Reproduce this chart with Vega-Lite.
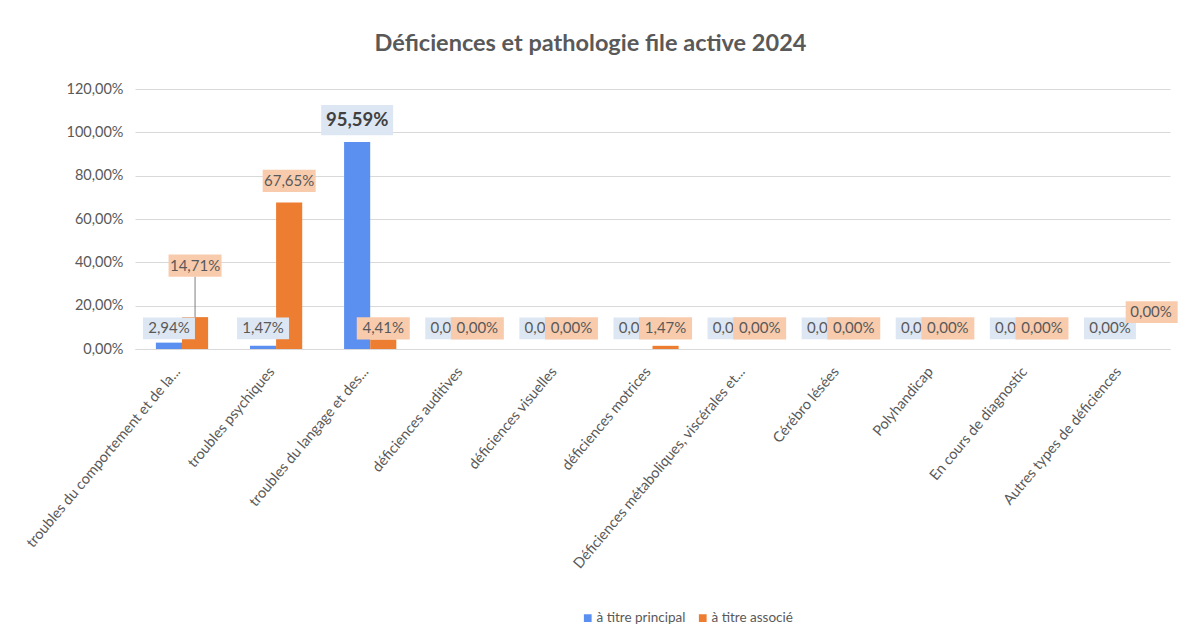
{
  "$schema": "https://vega.github.io/schema/vega-lite/v6.json",
  "width": 1035,
  "height": 260,
  "autosize": {"type": "none"},
  "padding": {"left": 135, "top": 89, "right": 11, "bottom": 295},
  "background": "white",
  "title": {
    "text": "Déficiences et pathologie file active 2024",
    "font": "Lato",
    "fontSize": 23.5,
    "fontWeight": "bold",
    "color": "#595959",
    "anchor": "middle",
    "dx": -62,
    "offset": 26
  },
  "data": {
    "values": [
      {"category": "troubles du comportement et de la...", "series": "à titre principal", "value": 0.0294},
      {"category": "troubles du comportement et de la...", "series": "à titre associé", "value": 0.1471},
      {"category": "troubles psychiques", "series": "à titre principal", "value": 0.0147},
      {"category": "troubles psychiques", "series": "à titre associé", "value": 0.6765},
      {"category": "troubles du langage et des...", "series": "à titre principal", "value": 0.9559},
      {"category": "troubles du langage et des...", "series": "à titre associé", "value": 0.0441},
      {"category": "déficiences auditives", "series": "à titre principal", "value": 0},
      {"category": "déficiences auditives", "series": "à titre associé", "value": 0},
      {"category": "déficiences visuelles", "series": "à titre principal", "value": 0},
      {"category": "déficiences visuelles", "series": "à titre associé", "value": 0},
      {"category": "déficiences motrices", "series": "à titre principal", "value": 0},
      {"category": "déficiences motrices", "series": "à titre associé", "value": 0.0147},
      {"category": "Déficiences métaboliques, viscérales et...", "series": "à titre principal", "value": 0},
      {"category": "Déficiences métaboliques, viscérales et...", "series": "à titre associé", "value": 0},
      {"category": "Cérébro lésées", "series": "à titre principal", "value": 0},
      {"category": "Cérébro lésées", "series": "à titre associé", "value": 0},
      {"category": "Polyhandicap", "series": "à titre principal", "value": 0},
      {"category": "Polyhandicap", "series": "à titre associé", "value": 0},
      {"category": "En cours de diagnostic", "series": "à titre principal", "value": 0},
      {"category": "En cours de diagnostic", "series": "à titre associé", "value": 0},
      {"category": "Autres types de déficiences", "series": "à titre principal", "value": 0},
      {"category": "Autres types de déficiences", "series": "à titre associé", "value": 0}
    ]
  },
  "transform": [
    {"calculate": "datum.category == 'Autres types de déficiences' && datum.series == 'à titre associé' ? 0.17 : (datum.value > 0.5 ? datum.value + 0.1 : (datum.value > 0.1 ? 0.385 : 0.095))", "as": "labelY"},
    {"calculate": "datum.labelY - 0.05", "as": "leaderY"}
  ],
  "encoding": {
    "x": {
      "field": "category",
      "type": "nominal",
      "sort": null,
      "scale": {"paddingInner": 0.445, "paddingOuter": 0.222},
      "axis": {
        "title": null,
        "labelAngle": -50,
        "labelAlign": "right",
        "labelBaseline": "middle",
        "labelFont": "Lato",
        "labelFontSize": 14.5,
        "labelColor": "#595959",
        "labelPadding": 20,
        "labelOffset": -4,
        "labelLimit": 400,
        "ticks": false,
        "domainColor": "#D9D9D9",
        "domainWidth": 1
      }
    },
    "xOffset": {
      "field": "series",
      "type": "nominal",
      "scale": {"domain": ["à titre principal", "à titre associé"]}
    }
  },
  "layer": [
    {
      "mark": {"type": "bar"},
      "encoding": {
        "y": {
          "field": "value",
          "type": "quantitative",
          "scale": {"domain": [0, 1.2]},
          "axis": {
            "title": null,
            "format": ".2%",
            "values": [0, 0.2, 0.4, 0.6, 0.8, 1.0, 1.2],
            "domain": false,
            "ticks": false,
            "labelFont": "Lato",
            "labelFontSize": 14.5,
            "labelColor": "#595959",
            "labelPadding": 12,
            "gridColor": "#D9D9D9",
            "gridWidth": 1
          }
        },
        "color": {
          "field": "series",
          "type": "nominal",
          "scale": {"domain": ["à titre principal", "à titre associé"], "range": ["#5B8FF0", "#ED7D31"]},
          "legend": {
            "title": null,
            "orient": "none",
            "legendX": 446,
            "legendY": 522,
            "direction": "horizontal",
            "symbolType": "square",
            "symbolSize": 60,
            "labelOffset": 2,
            "labelFont": "Lato",
            "labelFontSize": 13.5,
            "labelColor": "#595959",
            "columnPadding": 10
          }
        }
      }
    },
    {
      "transform": [{"filter": "datum.series == 'à titre principal' && datum.value < 0.9"}],
      "mark": {"type": "point", "filled": true, "shape": "M-1,-0.42H1V0.42H-1Z", "size": 2704, "color": "#DDE7F3", "opacity": 1, "strokeWidth": 0},
      "encoding": {"y": {"field": "labelY", "type": "quantitative"}}
    },
    {
      "transform": [{"filter": "datum.series == 'à titre principal' && datum.value < 0.9"}],
      "mark": {"type": "text", "font": "Lato", "fontSize": 15, "color": "#595959"},
      "encoding": {
        "y": {"field": "labelY", "type": "quantitative"},
        "text": {"field": "value", "type": "quantitative", "format": ".2%"}
      }
    },
    {
      "transform": [{"filter": "datum.series == 'à titre principal' && datum.value >= 0.9"}],
      "mark": {"type": "point", "filled": true, "shape": "M-1,-0.42H1V0.42H-1Z", "size": 5184, "color": "#DDE7F3", "opacity": 1, "strokeWidth": 0},
      "encoding": {"y": {"field": "labelY", "type": "quantitative"}}
    },
    {
      "transform": [{"filter": "datum.series == 'à titre principal' && datum.value >= 0.9"}],
      "mark": {"type": "text", "font": "Lato", "fontSize": 18.5, "fontWeight": "bold", "color": "#404040"},
      "encoding": {
        "y": {"field": "labelY", "type": "quantitative"},
        "text": {"field": "value", "type": "quantitative", "format": ".2%"}
      }
    },
    {
      "transform": [{"filter": "datum.series == 'à titre associé' && datum.category == 'troubles du comportement et de la...'"}],
      "mark": {"type": "rule", "color": "#7F7F7F", "strokeWidth": 1},
      "encoding": {
        "y": {"field": "value", "type": "quantitative"},
        "y2": {"field": "leaderY"}
      }
    },
    {
      "transform": [{"filter": "datum.series == 'à titre associé' && datum.category != 'Autres types de déficiences'"}],
      "mark": {"type": "point", "filled": true, "shape": "M-1,-0.42H1V0.42H-1Z", "size": 2809, "color": "#F8CBAD", "opacity": 1, "strokeWidth": 0},
      "encoding": {"y": {"field": "labelY", "type": "quantitative"}}
    },
    {
      "transform": [{"filter": "datum.series == 'à titre associé' && datum.category != 'Autres types de déficiences'"}],
      "mark": {"type": "text", "font": "Lato", "fontSize": 15, "color": "#595959"},
      "encoding": {
        "y": {"field": "labelY", "type": "quantitative"},
        "text": {"field": "value", "type": "quantitative", "format": ".2%"}
      }
    },
    {
      "transform": [{"filter": "datum.series == 'à titre associé' && datum.category == 'Autres types de déficiences'"}],
      "mark": {"type": "point", "filled": true, "shape": "M-0.4,-0.42H1.6V0.42H-0.4Z", "size": 2704, "color": "#F8CBAD", "opacity": 1, "strokeWidth": 0},
      "encoding": {"y": {"field": "labelY", "type": "quantitative"}}
    },
    {
      "transform": [{"filter": "datum.series == 'à titre associé' && datum.category == 'Autres types de déficiences'"}],
      "mark": {"type": "text", "font": "Lato", "fontSize": 15, "color": "#595959", "dx": 15},
      "encoding": {
        "y": {"field": "labelY", "type": "quantitative"},
        "text": {"field": "value", "type": "quantitative", "format": ".2%"}
      }
    }
  ],
  "config": {
    "locale": {"number": {"decimal": ",", "thousands": "\u00a0", "grouping": [3], "currency": ["", "\u00a0€"]}},
    "view": {"stroke": null}
  }
}
